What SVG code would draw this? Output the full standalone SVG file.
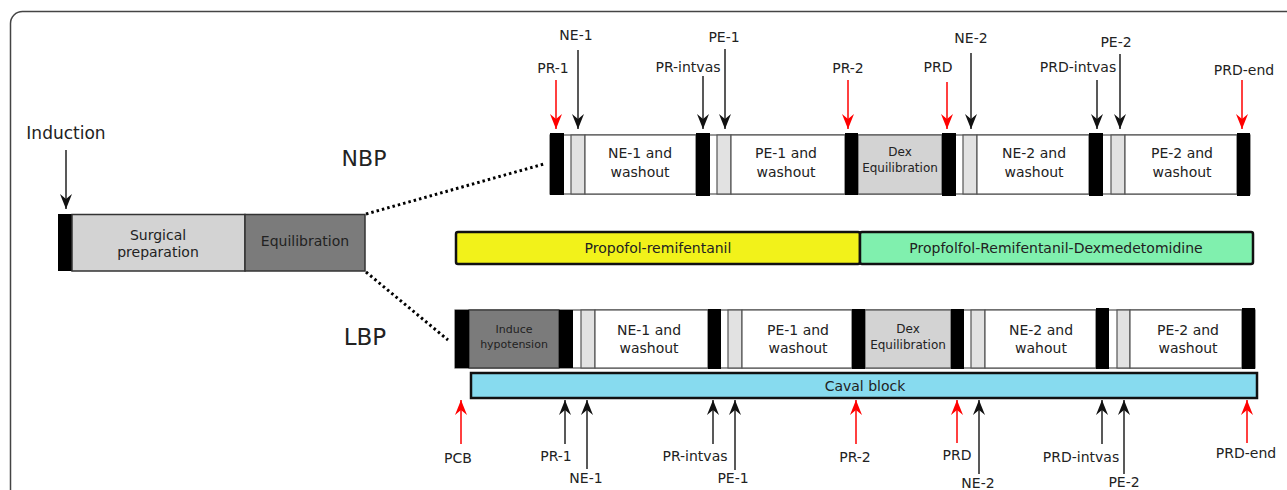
<svg xmlns="http://www.w3.org/2000/svg" width="1287" height="490" viewBox="0 0 1287 490">
<defs>
<marker id="ab" viewBox="0 0 15 12" refX="15" refY="6" markerWidth="15" markerHeight="12" markerUnits="userSpaceOnUse" orient="auto">
<path d="M0,0 L15,6 L0,12 L5,6 z" fill="#111"/>
</marker>
<marker id="ar" viewBox="0 0 15 12" refX="15" refY="6" markerWidth="15" markerHeight="12" markerUnits="userSpaceOnUse" orient="auto">
<path d="M0,0 L15,6 L0,12 L5,6 z" fill="#f00"/>
</marker>
<style>
text{font-family:"DejaVu Sans","Liberation Sans",sans-serif;fill:#222;text-anchor:middle}
.lb{font-size:14px}
.sm{font-size:12px}
.xs{font-size:11px}
.bar{fill:#000}
.lg{fill:#e2e2e2;stroke:#555;stroke-width:1.2}
.wb{fill:#fff;stroke:#555;stroke-width:1.2}
.gr{fill:#d3d3d3;stroke:#555;stroke-width:1.2}
.dg{fill:#7b7b7b;stroke:#333;stroke-width:1.2}
.ak{stroke:#222;stroke-width:1.5;fill:none}
.ak.d{marker-end:url(#ab)}
.ar{stroke:#f00;stroke-width:1.5;fill:none}
.ar.d{marker-end:url(#ar)}
.dot{stroke:#000;stroke-width:3;stroke-dasharray:2.5,3;fill:none}
</style>
</defs>
<rect x="10.5" y="11.5" width="1300" height="500" rx="12" fill="#fff" stroke="#444" stroke-width="1.5"/>

<g id="induction">
<text x="66" y="139" style="font-size:17px">Induction</text>
</g>
<g id="left-block">
<rect class="bar" x="58" y="214" width="14" height="57"/>
<rect x="72" y="214.5" width="173" height="56.5" fill="#d3d3d3" stroke="#333" stroke-width="1.5"/>
<rect x="245" y="214.5" width="120" height="56.5" fill="#7b7b7b" stroke="#333" stroke-width="1.5"/>
<text class="lb" x="158" y="240">Surgical</text>
<text class="lb" x="158" y="257">preparation</text>
<text class="lb" x="305" y="246">Equilibration</text>
</g>
<g id="nbp-label"><text x="364" y="166" style="font-size:22px">NBP</text></g>
<g id="lbp-label"><text x="365" y="345" style="font-size:23px">LBP</text></g>

<g id="nbp-row">
<rect class="wb" x="550" y="135" width="700" height="59"/>
<rect class="lg" x="571" y="135" width="14" height="59"/>
<rect class="wb" x="585" y="135" width="111" height="59"/>
<rect class="lg" x="717" y="135" width="14" height="59"/>
<rect class="wb" x="731" y="135" width="114" height="59"/>
<rect class="gr" x="858" y="135" width="84" height="59"/>
<rect class="lg" x="963" y="135" width="14" height="59"/>
<rect class="wb" x="977" y="135" width="112" height="59"/>
<rect class="lg" x="1111" y="135" width="14" height="59"/>
<rect class="wb" x="1125" y="135" width="112" height="59"/>
<rect class="bar" x="550" y="133" width="14" height="62"/>
<rect class="bar" x="696" y="133" width="14" height="63"/>
<rect class="bar" x="845" y="133" width="13" height="62"/>
<rect class="bar" x="942" y="133" width="14" height="63"/>
<rect class="bar" x="1089" y="133" width="14" height="63"/>
<rect class="bar" x="1237" y="133" width="13" height="63"/>
<text class="lb" x="640" y="158">NE-1 and</text>
<text class="lb" x="640" y="177">washout</text>
<text class="lb" x="786" y="158">PE-1 and</text>
<text class="lb" x="786" y="177">washout</text>
<text class="sm" x="900" y="156">Dex</text>
<text class="sm" x="900" y="172">Equilibration</text>
<text class="lb" x="1034" y="158">NE-2 and</text>
<text class="lb" x="1034" y="177">washout</text>
<text class="lb" x="1182" y="158">PE-2 and</text>
<text class="lb" x="1182" y="177">washout</text>
</g>

<g id="propofol-remifentanil">
<rect x="456" y="232" width="404" height="32" rx="2" fill="#f2f21a" stroke="#111" stroke-width="2.5"/>
<text class="lb" x="658" y="253">Propofol-remifentanil</text>
</g>
<g id="propofol-remifentanil-dex">
<rect x="860" y="232" width="393" height="32" rx="2" fill="#80f0ae" stroke="#111" stroke-width="2.5"/>
<text class="lb" x="1056" y="253">Propfolfol-Remifentanil-Dexmedetomidine</text>
</g>

<g id="lbp-row">
<rect class="wb" x="455" y="310" width="800" height="58"/>
<rect class="dg" x="469" y="310" width="90" height="58"/>
<rect class="lg" x="581" y="310" width="14" height="58"/>
<rect class="wb" x="595" y="310" width="113" height="58"/>
<rect class="lg" x="728" y="310" width="14" height="58"/>
<rect class="wb" x="742" y="310" width="110" height="58"/>
<rect class="gr" x="865" y="310" width="86" height="58"/>
<rect class="lg" x="971" y="310" width="14" height="58"/>
<rect class="wb" x="985" y="310" width="111" height="58"/>
<rect class="lg" x="1117" y="310" width="13" height="58"/>
<rect class="wb" x="1130" y="310" width="112" height="58"/>
<rect class="bar" x="455" y="310" width="14" height="58"/>
<rect class="bar" x="559" y="310" width="14" height="58"/>
<rect class="bar" x="708" y="309" width="13" height="60"/>
<rect class="bar" x="852" y="309" width="13" height="60"/>
<rect class="bar" x="951" y="309" width="13" height="60"/>
<rect class="bar" x="1096" y="308" width="13" height="61"/>
<rect class="bar" x="1242" y="308" width="13" height="61"/>
<text class="xs" x="514" y="333">Induce</text>
<text class="xs" x="514" y="348">hypotension</text>
<text class="lb" x="649" y="335">NE-1 and</text>
<text class="lb" x="649" y="353">washout</text>
<text class="lb" x="798" y="335">PE-1 and</text>
<text class="lb" x="798" y="353">washout</text>
<text class="sm" x="908" y="333">Dex</text>
<text class="sm" x="908" y="349">Equilibration</text>
<text class="lb" x="1041" y="335">NE-2 and</text>
<text class="lb" x="1041" y="353">wahout</text>
<text class="lb" x="1188" y="335">PE-2 and</text>
<text class="lb" x="1188" y="353">washout</text>
</g>

<g id="caval-block">
<rect x="471" y="373" width="786" height="25" fill="#87dbef" stroke="#111" stroke-width="2.5"/>
<text class="lb" x="865" y="391">Caval block</text>
</g>

<g id="connectors">
<line class="dot" x1="366" y1="214" x2="544" y2="164"/>
<line class="dot" x1="366" y1="272" x2="448" y2="340"/>
<line class="ak d" x1="66" y1="150" x2="66" y2="209"/>
<line class="ar d" x1="556" y1="80" x2="556" y2="129"/>
<line class="ak d" x1="578" y1="50" x2="578" y2="129"/>
<line class="ak d" x1="703" y1="76" x2="703" y2="129"/>
<line class="ak d" x1="725" y1="49" x2="725" y2="129"/>
<line class="ar d" x1="848" y1="80" x2="848" y2="129"/>
<line class="ar d" x1="947" y1="82" x2="947" y2="129"/>
<line class="ak d" x1="971" y1="53" x2="971" y2="129"/>
<line class="ak d" x1="1097" y1="80" x2="1097" y2="129"/>
<line class="ak d" x1="1120" y1="54" x2="1120" y2="129"/>
<line class="ar d" x1="1242" y1="80" x2="1242" y2="129"/>
<line class="ar d" x1="461" y1="444" x2="461" y2="400"/>
<line class="ak d" x1="565" y1="444" x2="565" y2="400"/>
<line class="ak d" x1="587" y1="469" x2="587" y2="400"/>
<line class="ak d" x1="713" y1="444" x2="713" y2="400"/>
<line class="ak d" x1="735" y1="470" x2="735" y2="400"/>
<line class="ar d" x1="856" y1="444" x2="856" y2="400"/>
<line class="ar d" x1="957" y1="443" x2="957" y2="400"/>
<line class="ak d" x1="979" y1="474" x2="979" y2="400"/>
<line class="ak d" x1="1102" y1="444" x2="1102" y2="400"/>
<line class="ak d" x1="1124" y1="474" x2="1124" y2="400"/>
<line class="ar d" x1="1247" y1="443" x2="1247" y2="400"/>
</g>

<g id="labels">
<text class="lb" x="553" y="73">PR-1</text>
<text class="lb" x="576" y="40">NE-1</text>
<text class="lb" x="688" y="72">PR-intvas</text>
<text class="lb" x="724" y="42">PE-1</text>
<text class="lb" x="848" y="73">PR-2</text>
<text class="lb" x="938" y="72">PRD</text>
<text class="lb" x="971" y="43">NE-2</text>
<text class="lb" x="1078" y="72">PRD-intvas</text>
<text class="lb" x="1116" y="47">PE-2</text>
<text class="lb" x="1244" y="75">PRD-end</text>
<text class="lb" x="458" y="463">PCB</text>
<text class="lb" x="556" y="461">PR-1</text>
<text class="lb" x="586" y="483">NE-1</text>
<text class="lb" x="695" y="461">PR-intvas</text>
<text class="lb" x="733" y="483">PE-1</text>
<text class="lb" x="855" y="462">PR-2</text>
<text class="lb" x="957" y="460">PRD</text>
<text class="lb" x="978" y="488">NE-2</text>
<text class="lb" x="1081" y="462">PRD-intvas</text>
<text class="lb" x="1124" y="487">PE-2</text>
<text class="lb" x="1246" y="458">PRD-end</text>
</g>
</svg>
